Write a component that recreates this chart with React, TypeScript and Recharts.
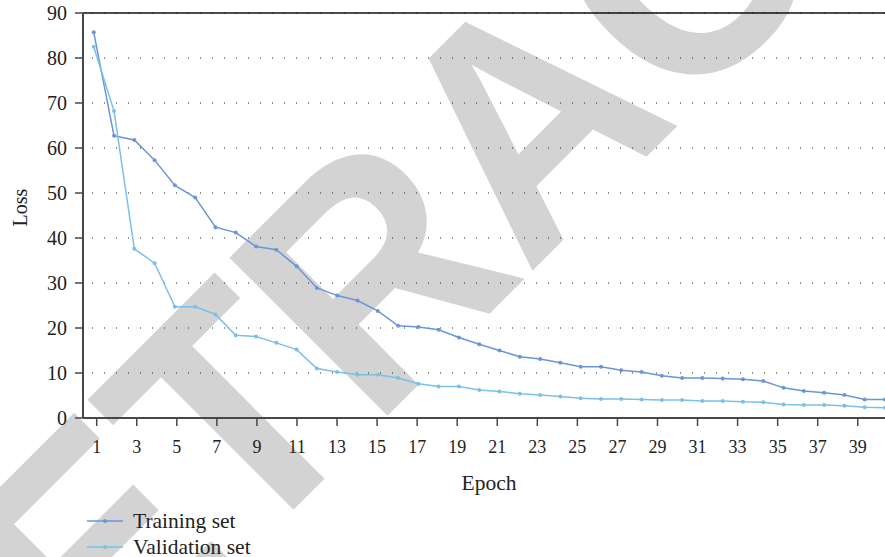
import React from "react";
import {
  LineChart, Line, XAxis, YAxis, CartesianGrid, ReferenceLine,
} from "recharts";

// values
const EPOCHS = [
  1, 2, 3, 4, 5, 6, 7, 8, 9, 10, 11, 12, 13, 14, 15, 16, 17, 18, 19, 20,
  21, 22, 23, 24, 25, 26, 27, 28, 29, 30, 31, 32, 33, 34, 35, 36, 37, 38, 39, 40,
];
const TRAINING = [
  85.7, 62.7, 61.8, 57.3, 51.7, 49.0, 42.4, 41.2, 38.1, 37.4,
  33.7, 28.9, 27.2, 26.1, 23.8, 20.5, 20.2, 19.6, 17.9, 16.4,
  15.0, 13.6, 13.1, 12.3, 11.4, 11.4, 10.6, 10.2, 9.4, 8.9,
  8.9, 8.8, 8.6, 8.2, 6.7, 6.0, 5.6, 5.1, 4.1, 4.1,
];
const VALIDATION = [
  82.5, 68.2, 37.6, 34.4, 24.7, 24.7, 23.0, 18.4, 18.1, 16.7,
  15.2, 11.0, 10.2, 9.6, 9.6, 8.9, 7.6, 7.0, 7.0, 6.2,
  5.9, 5.4, 5.1, 4.8, 4.4, 4.2, 4.2, 4.1, 4.0, 4.0,
  3.8, 3.8, 3.6, 3.5, 3.0, 2.9, 2.9, 2.7, 2.4, 2.3,
];
const X_TICKS = [1, 3, 5, 7, 9, 11, 13, 15, 17, 19, 21, 23, 25, 27, 29, 31, 33, 35, 37, 39];
const Y_TICKS = [0, 10, 20, 30, 40, 50, 60, 70, 80, 90];

const SERIES = [
  { key: "training", name: "Training set", color: "#6b95d8" },
  { key: "validation", name: "Validation set", color: "#7cbfe8" },
];

const FONT = "'Liberation Serif', 'Times New Roman', serif";
const AXIS = "#474747";

const data = EPOCHS.map((e, i) => ({
  epoch: e,
  training: TRAINING[i],
  validation: VALIDATION[i],
}));

function Watermark() {
  return (
    <svg width={885} height={557} style={{ position: "absolute", left: 0, top: 0 }}>
      <g transform="rotate(-45) scale(0.94, 1)">
        <text
          x={-684}
          y={568}
          fontFamily="'Liberation Sans', Arial, sans-serif"
          fontWeight={700}
          fontSize={325}
          letterSpacing={-3}
          fill="#d3d3d3"
        >
          RETRACTED
        </text>
      </g>
    </svg>
  );
}

function LegendBox() {
  return (
    <div style={{ position: "absolute", left: 87, top: 508, fontFamily: FONT, fontSize: 21.5, color: "#222" }}>
      {SERIES.map((s) => (
        <div key={s.key} style={{ display: "flex", alignItems: "center", height: 26 }}>
          <svg width={36} height={10} style={{ marginRight: 10 }}>
            <line x1={0} y1={5} x2={36} y2={5} stroke={s.color} strokeWidth={1.6} />
            <circle cx={18} cy={5} r={2} fill={s.color} />
          </svg>
          <span>{s.name}</span>
        </div>
      ))}
    </div>
  );
}

export default function App() {
  return (
    <div style={{ position: "absolute", left: 0, top: 0, width: 885, height: 557, background: "#fff" }}>
      <Watermark />
      <div style={{ position: "absolute", left: 0, top: 0 }}>
        <LineChart width={885} height={557} data={data}
          margin={{ top: 13, right: 0, bottom: 59, left: 0 }}>
          <CartesianGrid vertical={false} stroke="#222" strokeWidth={1.2}
            strokeDasharray="1 11" strokeDashoffset={3} />
          <XAxis
            dataKey="epoch"
            type="number"
            domain={[0.316, 40.36]}
            allowDataOverflow
            ticks={X_TICKS}
            interval={0}
            height={80}
            tickSize={8}
            tickMargin={14}
            axisLine={{ stroke: AXIS, strokeWidth: 2 }}
            tickLine={{ stroke: AXIS, strokeWidth: 1.5 }}
            tick={{ fill: "#222", fontFamily: FONT, fontSize: 18 }}
            label={{ value: "Epoch", position: "insideBottom", offset: 8, dx: 5, fill: "#222", fontFamily: FONT, fontSize: 21.5 }}
          />
          <XAxis xAxisId="data" dataKey="epoch" type="number" domain={[0.47, 40]} allowDataOverflow hide />
          <YAxis
            domain={[0, 90]}
            ticks={Y_TICKS}
            interval={0}
            width={83}
            tickSize={8}
            tickMargin={8}
            axisLine={{ stroke: AXIS, strokeWidth: 2 }}
            tickLine={{ stroke: AXIS, strokeWidth: 1.5 }}
            tick={{ fill: "#222", fontFamily: FONT, fontSize: 20 }}
            label={{ value: "Loss", angle: -90, position: "insideLeft", offset: 20, dy: -8, fill: "#222", fontFamily: FONT, fontSize: 20, style: { textAnchor: "middle" } }}
          />
          <ReferenceLine y={90} stroke="#111" strokeWidth={1.5} />
          {SERIES.map((s) => (
            <Line
              key={s.key}
              xAxisId="data"
              dataKey={s.key}
              name={s.name}
              stroke={s.color}
              strokeWidth={1.5}
              dot={{ r: 2, fill: s.color, stroke: "none" }}
              isAnimationActive={false}
            />
          ))}
        </LineChart>
      </div>
      <LegendBox />
    </div>
  );
}
